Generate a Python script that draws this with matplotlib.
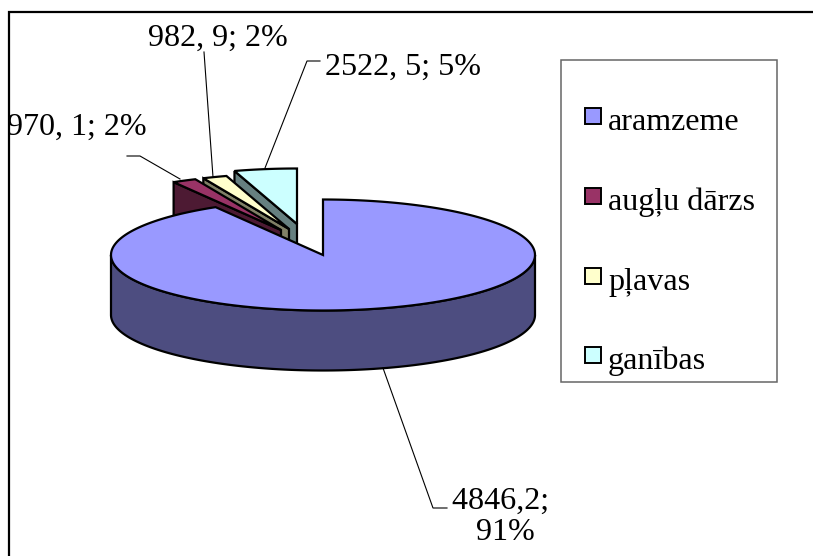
import matplotlib
matplotlib.use('Agg')
import matplotlib.pyplot as plt
from matplotlib.patches import Polygon, Rectangle
import numpy as np

plt.rcParams['font.family'] = ['Liberation Serif', 'DejaVu Sans']

names = ['aramzeme', 'augļu dārzs', 'pļavas', 'ganības']
values = [48462, 970.1, 982.9, 2522.5]
top_colors = ['#9999FF', '#993366', '#FFFFCC', '#CCFFFF']
side_colors = ['#4D4D80', '#4D1A33', '#808066', '#668080']

# apex of every slice on the canvas (pixels), the small ones are pulled out
apex_x = [323, 281, 289, 297]
apex_y = [255, 230, 229, 224]
rx, ry, depth = 212, 55.5, 60

value_labels = ['4846,2; \n91%', '970, 1; 2%', '982, 9; 2%', '2522, 5; 5%']
label_pos = [(505, 507), (7, 135), (148, 46), (325, 75)]
leaders = [
    [(383, 368), (433, 508), (447, 508)],
    [(127, 156), (140, 156), (180, 179)],
    [(204, 52), (213, 177)],
    [(320, 61), (307, 61), (265, 168)],
]
legend_y = [116, 196, 276, 355]

LW = 1.6
FS = 23.1


def rim(i, t):
    return apex_x[i] + rx * np.sin(t), apex_y[i] - ry * np.cos(t)


def draw_slice(ax, i, t0, t1):
    # t runs clockwise from 12 o'clock, the radial cut at t0 faces the viewer
    x0, y0 = rim(i, t0)
    if i > 0:
        cut = [(x0, y0), (apex_x[i], apex_y[i]),
               (apex_x[i], apex_y[i] + depth), (x0, y0 + depth)]
        ax.add_patch(Polygon(cut, fc=side_colors[i], ec='black', lw=LW))
    else:
        t = np.linspace(np.pi / 2, 3 * np.pi / 2, 200)
        xs, ys = rim(i, t)
        wall = np.r_[np.c_[xs, ys], np.c_[xs, ys + depth][::-1]]
        ax.add_patch(Polygon(wall, fc=side_colors[i], ec='black', lw=LW))
    t = np.linspace(t0, t1, 300)
    xs, ys = rim(i, t)
    top = np.r_[[(apex_x[i], apex_y[i])], np.c_[xs, ys]]
    ax.add_patch(Polygon(top, fc=top_colors[i], ec='black', lw=LW, joinstyle='miter'))


fig = plt.figure(figsize=(8.13, 5.56), dpi=100)
ax = fig.add_axes([0, 0, 1, 1])
ax.set_xlim(0, 813)
ax.set_ylim(556, 0)
ax.axis('off')

# outer chart border runs off the right and bottom of the picture
ax.add_patch(Rectangle((8.5, 12), 900, 700, fc='white', ec='black', lw=1.6))

ends = np.cumsum(values) / np.sum(values) * 2 * np.pi
starts = np.r_[0, ends[:-1]]
for i in [3, 2, 1, 0]:
    draw_slice(ax, i, starts[i], ends[i])

for pts in leaders:
    ax.plot([p[0] for p in pts], [p[1] for p in pts], color='black', lw=0.8)

for i, txt in enumerate(value_labels):
    if i == 0:
        ax.text(label_pos[i][0], label_pos[i][1] + 33, txt, fontsize=FS, ha='center',
                va='baseline', linespacing=1.08, multialignment='center')
    else:
        ax.text(label_pos[i][0], label_pos[i][1], txt, fontsize=FS, ha='left', va='baseline')

# legend
ax.add_patch(Rectangle((560.5, 59.5), 216.5, 322, fc='white', ec='#666666', lw=1.1))
for i, name in enumerate(names):
    ax.add_patch(Rectangle((585, legend_y[i] - 8), 15.5, 15.5, fc=top_colors[i], ec='black', lw=1.4))
    ax.text(608, legend_y[i] + 14, name, fontsize=FS, ha='left', va='baseline')

fig.savefig('out.png', dpi=100)
